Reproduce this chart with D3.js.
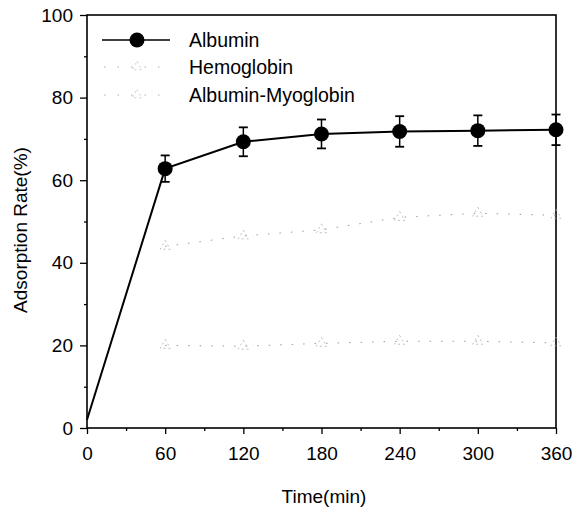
<!DOCTYPE html>
<html><head><meta charset="utf-8">
<script src="https://cdn.jsdelivr.net/npm/d3@7"></script>
<style>body{margin:0;background:#fff;} text{font-family:"Liberation Sans",Arial,Helvetica,sans-serif;}</style>
</head><body>
<svg id="c" width="577" height="508"></svg>
<script>
const times = [0, 60, 120, 180, 240, 300, 360];
const albumin = [2, 62.8, 69.3, 71.2, 71.8, 72.0, 72.2];
const albuminErr = [0, 3.2, 3.5, 3.5, 3.7, 3.7, 3.7];
const hemoglobin = [2, 44, 46.5, 48, 51, 52, 51.5];
const albuminMyoglobin = [2, 20, 19.8, 20.5, 21, 21, 20.6];
const xTicks = [0, 60, 120, 180, 240, 300, 360];
const yTicks = [0, 20, 40, 60, 80, 100];
const seriesNames = ["Albumin", "Hemoglobin", "Albumin-Myoglobin"];

const svg = d3.select("#c");
const L = 87, R = 556, T = 15, B = 428;
const x = d3.scaleLinear().domain([0, 360]).range([L, R]);
const y = d3.scaleLinear().domain([0, 100]).range([B, T]);

const xAxis = d3.axisBottom(x).tickValues(xTicks).tickSize(6).tickPadding(13);
const xMinor = d3.axisBottom(x).tickValues(d3.range(30, 360, 60)).tickSize(3).tickFormat("");
const yAxis = d3.axisLeft(y).tickValues(yTicks).tickSize(7).tickPadding(7);
const yMinor = d3.axisLeft(y).tickValues(d3.range(10, 100, 20)).tickSize(3).tickFormat("");

function styleAxis(g, fs) {
  g.select(".domain").remove();
  g.selectAll("line").attr("stroke", "#000").attr("stroke-width", 1.3);
  g.selectAll("text").attr("font-size", fs).attr("fill", "#000");
}
svg.append("g").attr("transform", `translate(0,${B})`).call(xAxis).call(g => styleAxis(g, 19));
svg.append("g").attr("transform", `translate(0,${B})`).call(xMinor).call(g => styleAxis(g, 19));
svg.append("g").attr("transform", `translate(${L},0)`).call(yAxis).call(g => styleAxis(g, 19));
svg.append("g").attr("transform", `translate(${L},0)`).call(yMinor).call(g => styleAxis(g, 19));

svg.append("rect").attr("x", L).attr("y", T).attr("width", R - L).attr("height", B - T)
  .attr("fill", "none").attr("stroke", "#000").attr("stroke-width", 1.6);

// faint series (faded in the scan)
const line = d3.line().x((d, i) => x(times[i])).y(d => y(d));
[hemoglobin, albuminMyoglobin].forEach(vals => {
  svg.append("path").datum(vals.slice(1)).attr("d", d3.line().x((d, i) => x(times[i + 1])).y(d => y(d)))
    .attr("fill", "none").attr("stroke", "#999").attr("stroke-width", 1)
    .attr("stroke-dasharray", "1.5,10");
  const tri = d3.symbol().type(d3.symbolTriangle).size(45);
  svg.append("g").selectAll("path").data(vals.slice(1)).join("path")
    .attr("d", tri).attr("transform", (d, i) => `translate(${x(times[i + 1])},${y(d)})`)
    .attr("fill", "none").attr("stroke", "#b0b0b0").attr("stroke-width", 0.8)
    .attr("stroke-dasharray", "2,3");
});

svg.append("path").datum(albumin).attr("d", line)
  .attr("fill", "none").attr("stroke", "#000").attr("stroke-width", 2);
const eb = svg.append("g");
albumin.forEach((v, i) => {
  const e = albuminErr[i];
  if (!e) return;
  const cx = x(times[i]);
  eb.append("line").attr("x1", cx).attr("x2", cx).attr("y1", y(v - e)).attr("y2", y(v + e))
    .attr("stroke", "#000").attr("stroke-width", 1.5);
  [v - e, v + e].forEach(w => eb.append("line").attr("x1", cx - 4.5).attr("x2", cx + 4.5)
    .attr("y1", y(w)).attr("y2", y(w)).attr("stroke", "#000").attr("stroke-width", 1.8));
});
svg.append("g").selectAll("circle").data(albumin.slice(1)).join("circle")
  .attr("cx", (d, i) => x(times[i + 1])).attr("cy", d => y(d)).attr("r", 7.5).attr("fill", "#000");

// legend
const lg = svg.append("g");
const legY = [40, 67, 95];
lg.append("line").attr("x1", 102).attr("x2", 170).attr("y1", legY[0]).attr("y2", legY[0])
  .attr("stroke", "#000").attr("stroke-width", 1.5);
lg.append("circle").attr("cx", 137).attr("cy", legY[0]).attr("r", 7.5).attr("fill", "#000");
[legY[1], legY[2]].forEach(yy => {
  lg.append("line").attr("x1", 104).attr("x2", 168).attr("y1", yy).attr("y2", yy)
    .attr("stroke", "#aaa").attr("stroke-width", 1).attr("stroke-dasharray", "1.5,12");
  lg.append("path").attr("d", d3.symbol().type(d3.symbolTriangle).size(40)())
    .attr("transform", `translate(137,${yy})`).attr("fill", "none").attr("stroke", "#bbb")
    .attr("stroke-width", 0.8).attr("stroke-dasharray", "2,3");
});
seriesNames.forEach((n, k) => {
  lg.append("text").attr("x", 189).attr("y", legY[k]).attr("dy", "0.35em")
    .attr("font-size", 19.5).text(n);
});

svg.append("text").attr("x", 324).attr("y", 503).attr("text-anchor", "middle")
  .attr("font-size", 19).text("Time(min)");
svg.append("text").attr("transform", `translate(27,230) rotate(-90)`)
  .attr("text-anchor", "middle").attr("font-size", 19).text("Adsorption Rate(%)");
</script>
</body></html>
